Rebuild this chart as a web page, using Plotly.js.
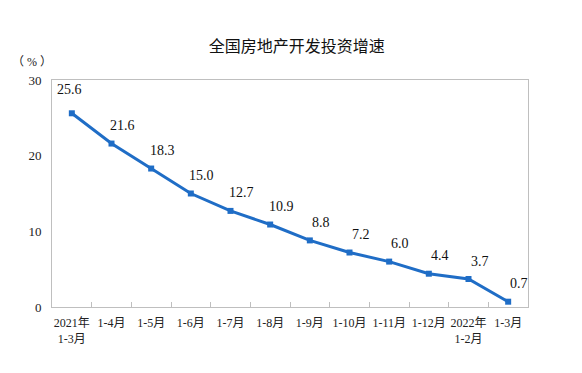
<!DOCTYPE html>
<html>
<head>
<meta charset="utf-8">
<script src="https://cdn.plot.ly/plotly-3.0.1.min.js"></script>
<style>html,body{margin:0;padding:0;background:#fff;}#chart{width:582px;height:373px;}</style>
</head>
<body>
<div id="chart"></div>
<script>
var categories = ["2021年<br>1-3月","1-4月","1-5月","1-6月","1-7月","1-8月","1-9月","1-10月","1-11月","1-12月","2022年<br>1-2月","1-3月"];
var growth = [25.6, 21.6, 18.3, 15.0, 12.7, 10.9, 8.8, 7.2, 6.0, 4.4, 3.7, 0.7];
var labels = ["25.6","21.6","18.3","15.0","12.7","10.9","8.8","7.2","6.0","4.4","3.7","0.7"];
var yTicks = [0, 10, 20, 30];

var serif = "'Liberation Serif', 'Noto Sans CJK SC', serif";
var blue = "#1f6dc6";

var trace = {
  x: categories,
  y: growth,
  type: "scatter",
  mode: "lines+markers",
  line: {color: blue, width: 3},
  marker: {symbol: "square", size: 6, color: blue},
  hoverinfo: "none"
};

var annotations = labels.map(function(t, i){
  return {
    x: categories[i], y: growth[i], xref: "x", yref: "y",
    text: t, showarrow: false,
    xshift: i === 0 ? -2 : 11,
    yshift: i === 0 ? 24 : 18,
    font: {family: serif, size: 14, color: "#111"}
  };
});
annotations.push({
  xref: "paper", yref: "paper", x: -0.042, y: 1.079, xanchor: "center", yanchor: "middle",
  text: "（ % ）", showarrow: false,
  font: {family: serif, size: 12, color: "#222"}
});

var layout = {
  width: 582, height: 373,
  margin: {l: 52, r: 54, t: 80, b: 66},
  paper_bgcolor: "#fff", plot_bgcolor: "#fff",
  showlegend: false,
  title: {text: "全国房地产开发投资增速", x: 0.51, xanchor: "center", y: 0.875, yanchor: "middle",
          font: {family: "'Noto Sans CJK SC', sans-serif", size: 16, color: "#111"}},
  xaxis: {
    type: "category", range: [-0.5, 11.5],
    showline: true, linecolor: "#bfbfbf", linewidth: 1, mirror: true,
    ticks: "inside", tickson: "boundaries", ticklen: 5, tickcolor: "#bfbfbf",
    showgrid: false, zeroline: false, tickangle: 0, automargin: false,
    ticklabelstandoff: 5,
    tickfont: {family: serif, size: 12, color: "#222"}
  },
  yaxis: {
    range: [0, 30], tickvals: yTicks, ticktext: yTicks.map(String),
    showline: true, linecolor: "#bfbfbf", linewidth: 1, mirror: true,
    ticks: "", showgrid: false, zeroline: false, ticklabelstandoff: 7,
    tickfont: {family: serif, size: 13, color: "#222"}
  },
  annotations: annotations
};

Plotly.newPlot("chart", [trace], layout, {displayModeBar: false, staticPlot: true});
</script>
</body>
</html>
